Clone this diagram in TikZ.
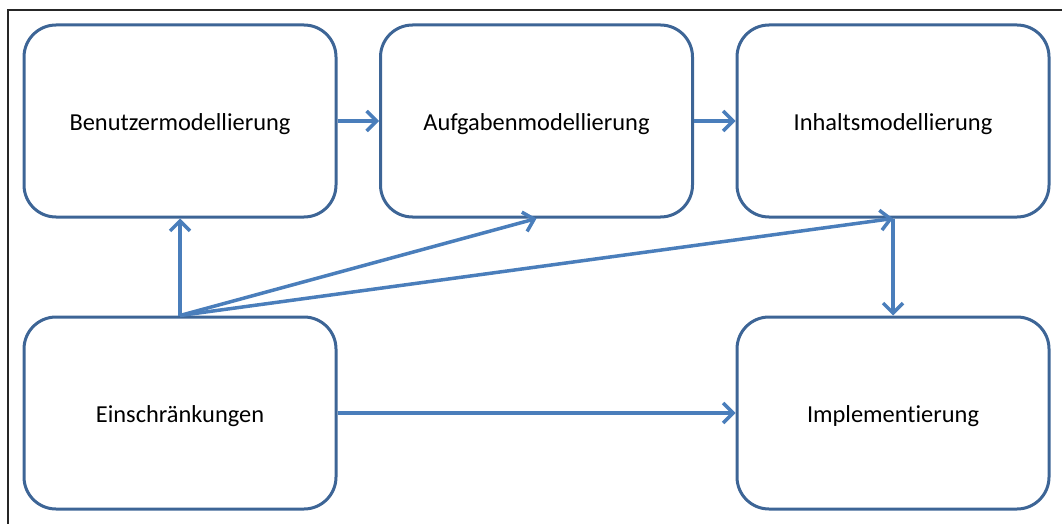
\documentclass[tikz,border=0pt]{standalone}
\usepackage{fontspec}
\setmainfont{Carlito}[RawFeature=-liga]
\usepackage{tikz}
\usetikzlibrary{arrows.meta}
\definecolor{boxline}{HTML}{3D6596}
\definecolor{arrowline}{HTML}{4A7EBB}

\begin{document}
\begin{tikzpicture}[x=1pt, y=-1pt, node distance={356.5pt},
        main/.style = {draw=boxline, line width=3pt, rounded corners=32pt, minimum width=312pt, minimum height=192pt, text height=24pt, text depth=5pt, font=\fontsize{24.4}{28}\selectfont},
        link/.style = {draw=arrowline, line width=3.5pt, -{Straight Barb[length=10pt, width=20pt, line width=3.5pt]}}]
        \useasboundingbox (0,0) rectangle (1062,524);
        \draw[black!85, line width=1.5pt] (1062,10) -- (8,10) -- (8,524);
        \node[main] (1) at (180,121) {Benutzermodellierung};
        \node[main] (2) [right of=1] {Aufgabenmodellierung};
        \node[main] (3) [right of=2] {Inhaltsmodellierung};
        \node[main] (4) [below of=1, node distance=292pt] {Einschränkungen};
        \node[main] (5) [below of=3, node distance=292pt] {Implementierung};
        \draw[link] (1) -- (2);
        \draw[link] (2) -- (3);
        \draw[link] (4.north) -- (1.south);
        \draw[link] (4.north) -- (2.south);
        \draw[link] (4.north) -- (3.south);
        \draw[link] (3.south) -- (5.north);
        \draw[link] (4) -- (5);
    \end{tikzpicture}
\end{document}
